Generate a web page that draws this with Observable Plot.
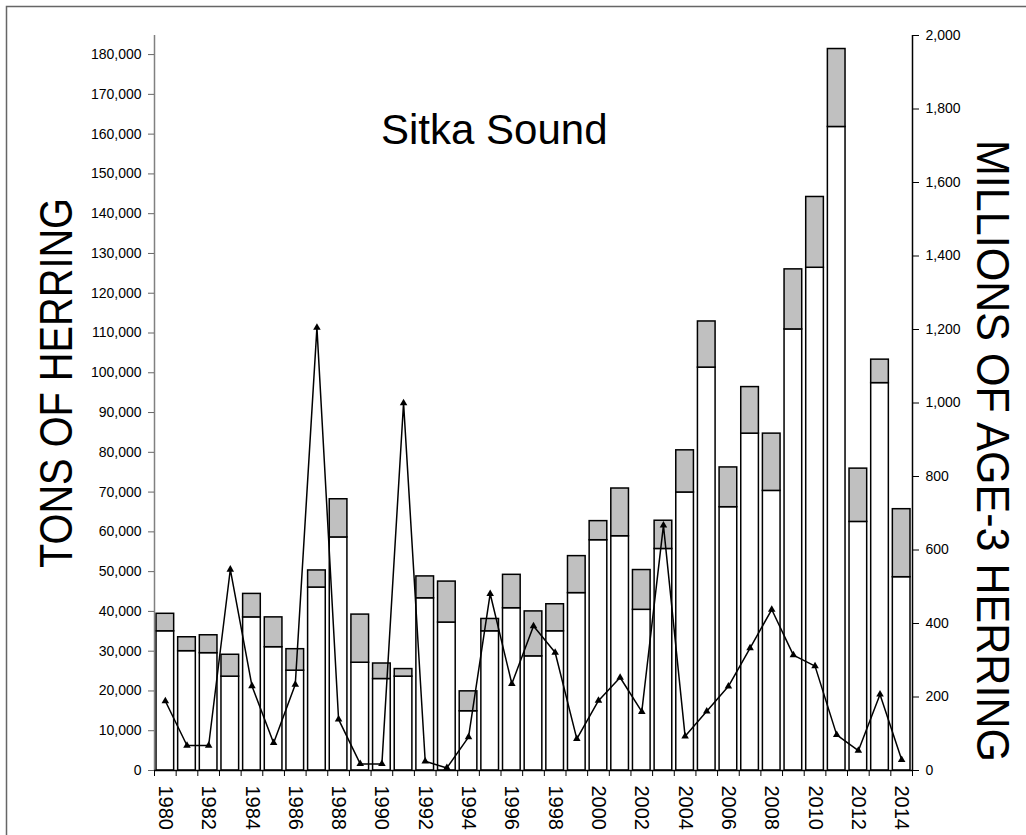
<!DOCTYPE html>
<html>
<head>
<meta charset="utf-8">
<script src="https://cdn.jsdelivr.net/npm/d3@7"></script>
<script src="https://cdn.jsdelivr.net/npm/@observablehq/plot@0.6"></script>
<style>
  html, body { margin: 0; padding: 0; background: #fff; }
  #wrap { position: relative; width: 1026px; height: 835px; overflow: hidden; font-family: "Liberation Sans", Arial, sans-serif; }
  #wrap > svg { position: absolute; left: 0; top: 0; }
  #overlay { pointer-events: none; }
</style>
</head>
<body>
<div id="wrap"></div>
<script>
// ---- data ----
const years = [1980,1981,1982,1983,1984,1985,1986,1987,1988,1989,1990,1991,1992,1993,1994,1995,1996,1997,1998,1999,2000,2001,2002,2003,2004,2005,2006,2007,2008,2009,2010,2011,2012,2013,2014];
// total bar height (tons of herring)
const totalTons = [39400,33500,34000,29100,44400,38500,30500,50300,68200,39200,26900,25500,48800,47500,19900,38100,49200,40000,41800,53900,62700,70900,50400,62800,80500,112900,76200,96400,84700,126000,144200,181400,75900,103300,65700];
// lower (white) portion of each bar (tons)
const lowerTons = [35000,30000,29500,23600,38500,31000,25100,46000,58600,27100,23000,23600,43300,37200,14900,35000,40800,28700,35000,44600,57900,58900,40400,55700,69900,101300,66200,84700,70300,110900,126400,161800,62500,97400,48600];
// millions of age-3 herring (right axis)
const age3Millions = [189,68,68,547,230,75,234,1205,139,18,18,1000,25,7,91,481,236,393,321,86,190,253,160,667,93,161,229,333,438,314,284,97,54,207,29];

const leftTicks = [0,10000,20000,30000,40000,50000,60000,70000,80000,90000,100000,110000,120000,130000,140000,150000,160000,170000,180000];
const rightTicks = [0,200,400,600,800,1000,1200,1400,1600,1800,2000];
const xLabelYears = [1980,1982,1984,1986,1988,1990,1992,1994,1996,1998,2000,2002,2004,2006,2008,2010,2012,2014];

const title = "Sitka Sound";
const leftTitle = "TONS OF HERRING";
const rightTitle = "MILLIONS OF AGE-3 HERRING";

// ---- scales ----
const LEFT_MAX = 184800;
const RIGHT_MAX = 2000;
const K = LEFT_MAX / RIGHT_MAX; // map right-axis units onto the left scale

const rows = years.map((y, i) => ({year: y, total: totalTons[i], lower: lowerTons[i], age3: age3Millions[i]}));
const boundaries = years.map(y => y - 0.5).concat([years[years.length - 1] + 0.5]);
const fmt = d3.format(",");

const chart = Plot.plot({
  width: 1026,
  height: 835,
  marginLeft: 154,
  marginRight: 114,
  marginTop: 35,
  marginBottom: 65,
  style: {fontFamily: '"Liberation Sans", Arial, sans-serif', fontSize: "14px", background: "transparent", color: "black"},
  x: {type: "linear", domain: [years[0] - 0.5, years[years.length - 1] + 0.5], axis: null},
  y: {domain: [0, LEFT_MAX], axis: null},
  marks: [
    Plot.rectY(rows, {x1: d => d.year - 0.5, x2: d => d.year + 0.5, y1: 0, y2: "lower", fill: "white", stroke: "black", strokeWidth: 1.5, insetLeft: 2, insetRight: 2}),
    Plot.rectY(rows, {x1: d => d.year - 0.5, x2: d => d.year + 0.5, y1: "lower", y2: "total", fill: "#c0c0c0", stroke: "black", strokeWidth: 1.5, insetLeft: 2, insetRight: 2}),
    Plot.line(rows, {x: "year", y: d => d.age3 * K, stroke: "black", strokeWidth: 1.5}),
    Plot.dot(rows, {x: "year", y: d => d.age3 * K, symbol: "triangle", r: 2.8, fill: "black", stroke: "none"}),
    // axis lines
    Plot.ruleX([years[0] - 0.5], {stroke: "#808080", strokeWidth: 1.5}),
    Plot.ruleX([years[years.length - 1] + 0.5], {stroke: "black", strokeWidth: 1.5}),
    Plot.ruleY([0], {stroke: "black", strokeWidth: 1.5}),
    // left axis
    Plot.axisY({anchor: "left", ticks: leftTicks, tickSize: 6, tickPadding: 7, fontSize: 14, tickFormat: fmt, label: null, stroke: "#666"}),
    // right axis (millions)
    Plot.axisY({anchor: "right", ticks: rightTicks.map(v => v * K), tickSize: 6, tickPadding: 7, fontSize: 14, tickFormat: d => fmt(Math.round(d / K)), label: null, stroke: "black"}),
    // x ticks at category boundaries
    Plot.axisX({anchor: "bottom", ticks: boundaries, tickSize: 6, tickFormat: () => "", label: null, stroke: "black"}),
    // x labels, rotated
    Plot.text(xLabelYears, {x: d => d, y: 0, text: d => String(d), rotate: 90, textAnchor: "start", dy: 15, fontSize: 20, fill: "black"})
  ]
});

const wrap = document.getElementById("wrap");
wrap.appendChild(chart);

// overlay: title, axis titles, outer frame
const ns = "http://www.w3.org/2000/svg";
const ov = document.createElementNS(ns, "svg");
ov.setAttribute("id", "overlay");
ov.setAttribute("width", 1026);
ov.setAttribute("height", 835);
ov.style.position = "absolute";
ov.style.left = "0";
ov.style.top = "0";
ov.style.fontFamily = '"Liberation Sans", Arial, sans-serif';

const frame = document.createElementNS(ns, "path");
frame.setAttribute("d", "M6.5,840 L6.5,6.5 L1030,6.5");
frame.setAttribute("fill", "none");
frame.setAttribute("stroke", "#666");
frame.setAttribute("stroke-width", "1.5");
ov.appendChild(frame);

function addText(str, attrs) {
  const t = document.createElementNS(ns, "text");
  for (const k in attrs) t.setAttribute(k, attrs[k]);
  t.textContent = str;
  ov.appendChild(t);
}
addText(title, {x: 381, y: 143.5, "font-size": 42, fill: "black"});
addText(leftTitle, {transform: "translate(72,383) rotate(-90)", "text-anchor": "middle", "font-size": 47, textLength: 370, lengthAdjust: "spacingAndGlyphs", fill: "black"});
addText(rightTitle, {transform: "translate(976.5,451) rotate(90)", "text-anchor": "middle", "font-size": 46.5, textLength: 622, lengthAdjust: "spacingAndGlyphs", fill: "black"});
wrap.appendChild(ov);
</script>
</body>
</html>
